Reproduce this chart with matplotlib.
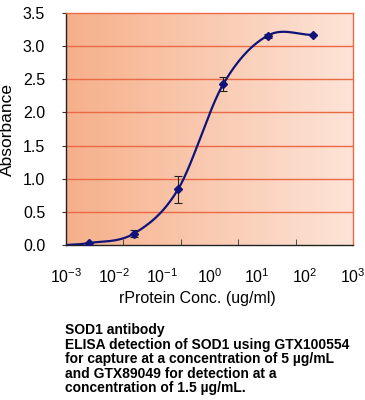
import numpy as np
import matplotlib
matplotlib.use("Agg")
import matplotlib.pyplot as plt
from matplotlib.colors import LinearSegmentedColormap

plt.rcParams['font.family'] = ['Liberation Sans', 'DejaVu Sans']
plt.rcParams['mathtext.fontset'] = 'custom'
plt.rcParams['mathtext.rm'] = 'Liberation Sans'
plt.rcParams['mathtext.it'] = 'Liberation Sans'

# data
conc = [0.001, 0.003, 0.026, 0.22, 1.95, 16.6, 145.0]
absorbance = [0.0, 0.03, 0.17, 0.84, 2.43, 3.16, 3.17]
err = [0.0, 0.0, 0.05, 0.2, 0.1, 0.03, 0.0]

yticks = [0.0, 0.5, 1.0, 1.5, 2.0, 2.5, 3.0, 3.5]
xdecades = [-3, -2, -1, 0, 1, 2, 3]
xlabels = ["$10^{%d}$" % d for d in xdecades]
tick_marks = [-1.8, -0.6, 0.6, 1.8, 3.0]

caption = ("SOD1 antibody\n"
           "ELISA detection of SOD1 using GTX100554\n"
           "for capture at a concentration of 5 \u00b5g/mL\n"
           "and GTX89049 for detection at a\n"
           "concentration of 1.5 \u00b5g/mL.")

grid_col = "#EB6A45"
navy = "#10147A"


def smooth_line(xs, ys, n=40):
	# catmull-rom through the points, like a smoothed excel series
	xs = np.asarray(xs, float)
	ys = np.asarray(ys, float)
	px = np.concatenate([[2 * xs[0] - xs[1]], xs, [2 * xs[-1] - xs[-2]]])
	py = np.concatenate([[2 * ys[0] - ys[1]], ys, [2 * ys[-1] - ys[-2]]])
	outx, outy = [], []
	t = np.linspace(0, 1, n)
	for i in range(1, len(px) - 2):
		for p, out in ((px, outx), (py, outy)):
			p0, p1, p2, p3 = p[i - 1], p[i], p[i + 1], p[i + 2]
			out.extend(0.5 * (2 * p1 + (-p0 + p2) * t
				+ (2 * p0 - 5 * p1 + 4 * p2 - p3) * t ** 2
				+ (-p0 + 3 * p1 - 3 * p2 + p3) * t ** 3))
	return np.array(outx), np.array(outy)


fig = plt.figure(figsize=(3.65, 4.0), dpi=100)
ax = fig.add_axes([66 / 365, 1 - 245 / 400, 287 / 365, 232 / 400])

# background gradient
cmap = LinearSegmentedColormap.from_list("bg", ["#F6B08A", "#FDE4D8"])
ax.imshow(np.linspace(0, 1, 256).reshape(1, -1), cmap=cmap, aspect="auto",
	extent=[0, 1, 0, 1], transform=ax.transAxes, zorder=0)

logc = np.log10(conc)
sx, sy = smooth_line(logc, absorbance)
ax.plot(10 ** sx, sy, color=navy, lw=1.6, zorder=3)
ax.errorbar(conc[1:], absorbance[1:], yerr=err[1:], fmt="D", color=navy,
	ms=4.5, ecolor="#222222", elinewidth=0.8, capsize=3, capthick=0.8, zorder=4)

ax.set_xscale("log")
ax.set_xlim(1e-3, 1e3)
ax.set_ylim(0, 3.5)

for v in yticks[1:-1]:
	ax.axhline(v, color=grid_col, lw=1.0, zorder=1)

ax.set_yticks(yticks)
ax.set_yticklabels(["%.1f" % v for v in yticks])
ax.tick_params(axis="y", direction="out", length=3, pad=12, labelsize=11.5, color="#333333")

ax.set_xticks([10.0 ** d for d in xdecades])
ax.set_xticklabels(xlabels)
ax.set_xticks([10.0 ** d for d in tick_marks], minor=True)
ax.tick_params(axis="x", which="major", length=0, pad=16, labelsize=11.5)
ax.tick_params(axis="x", which="minor", direction="in", length=4, color="#333333")

for side in ("top", "right"):
	ax.spines[side].set_color(grid_col)
	ax.spines[side].set_linewidth(1.0)
for side in ("left", "bottom"):
	ax.spines[side].set_color("#222222")
	ax.spines[side].set_linewidth(1.0)

ax.set_ylabel("Absorbance", fontsize=12.5, labelpad=6)
fig.text(197 / 365, 1 - 299 / 400, "rProtein Conc. (ug/ml)", fontsize=11.5,
	ha="center", va="center")

fig.text(65 / 365, 1 - 323 / 400, caption, fontsize=10, fontweight="bold",
	ha="left", va="top", linespacing=1.05)

fig.savefig("out.png", dpi=100)
